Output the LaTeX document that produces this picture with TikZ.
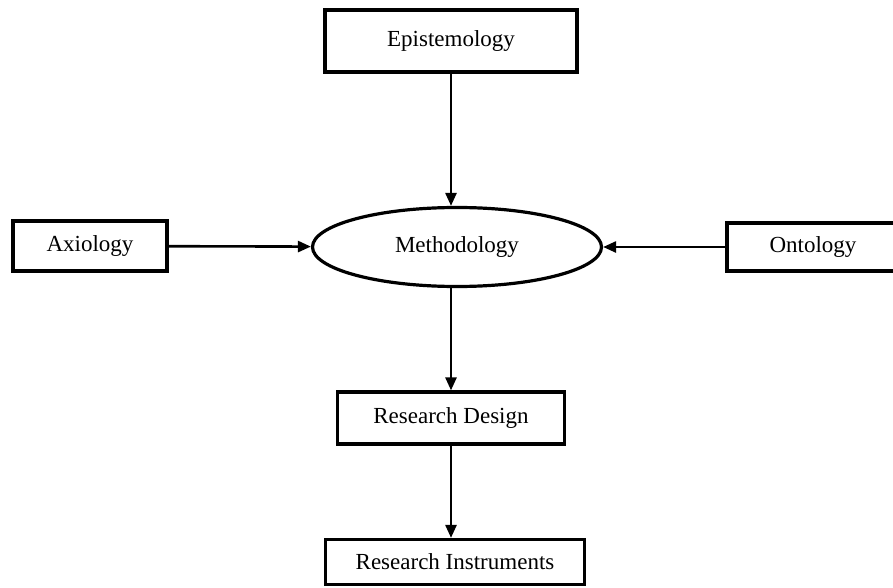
\documentclass[tikz,border=0pt]{standalone}
\usepackage{fontspec}
\setmainfont{Liberation Serif}
\usetikzlibrary{shapes, arrows.meta, positioning}
\tikzstyle{box} = [rectangle, draw, line width=1.6pt, inner sep=0pt, font=\fontsize{11.5}{13}\selectfont]
\tikzstyle{oval} = [ellipse, draw, line width=1.6pt, inner sep=0pt, font=\fontsize{11.5}{13}\selectfont]
\tikzstyle{line} = [draw, line width=1.3pt, -{Triangle[length=6.5pt, width=5.5pt]}]

\begin{document}
\begin{tikzpicture}[x=0.5pt, y=-0.5pt]
			\useasboundingbox (0,0) rectangle (893,588);
			\node [box, minimum width=126pt, minimum height=31pt] (epi) at (451, 41) {Epistemology};
			\node [box, minimum width=77pt, minimum height=25pt] (axi) at (90, 246) {Axiology};
			\node [oval, minimum width=144.5pt, minimum height=39.5pt] (meth) at (457, 247) {Methodology};
			\node [box, minimum width=86pt, minimum height=24pt] (ont) at (813, 247) {Ontology};
			\node [box, minimum width=113.5pt, minimum height=26pt] (des) at (451, 418) {Research Design};
			\node [box, minimum width=129.5pt, minimum height=22.5pt] (ins) at (455, 562) {Research Instruments};
			
			\path [line] (epi) -- (epi |- meth.north);
			\path [line] (axi) -- (meth);
			\path [line] (ont) -- (meth);
			\path [line] (des |- meth.south) -- (des);
			\path [line] (des) -- (des |- ins.north);
		\end{tikzpicture}
\end{document}
